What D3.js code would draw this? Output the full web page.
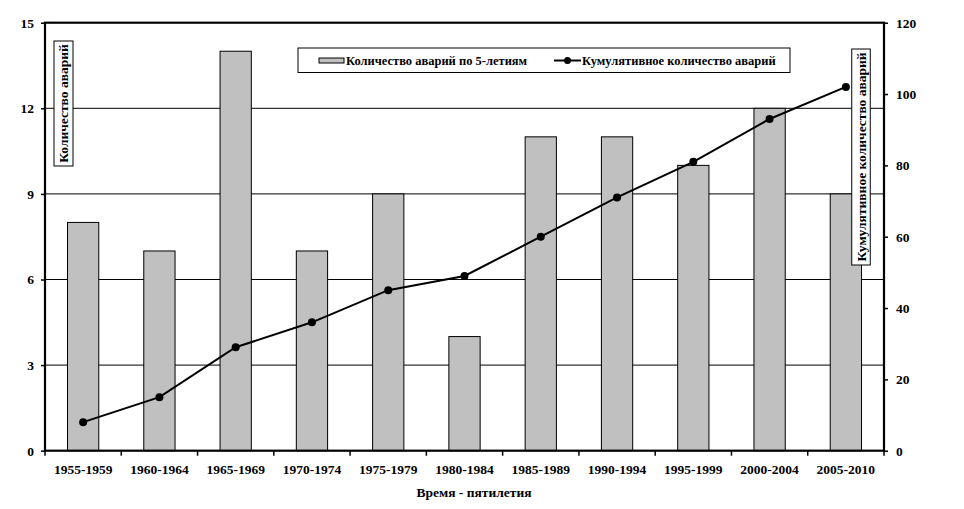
<!DOCTYPE html>
<html><head><meta charset="utf-8">
<script src="https://cdn.jsdelivr.net/npm/d3@7"></script>
<style>body{margin:0;background:#fff;} svg{display:block;}</style>
</head><body><svg id="c" width="964" height="509"></svg>
<script>
const categories = ["1955-1959","1960-1964","1965-1969","1970-1974","1975-1979","1980-1984","1985-1989","1990-1994","1995-1999","2000-2004","2005-2010"];
const counts = [8,7,14,7,9,4,11,11,10,12,9];
const cumulative = [8,15,29,36,45,49,60,71,81,93,102];
const leftTicks = [0,3,6,9,12,15];
const rightTicks = [0,20,40,60,80,100,120];
const seriesNames = ["Количество аварий по 5-летиям","Кумулятивное количество аварий"];
const leftTitle = "Количество аварий";
const rightTitle = "Кумулятивное количество аварий";
const xTitle = "Время - пятилетия";

const FONT = "Liberation Serif";
const svg = d3.select("#c");
const L = 45, R = 884, T = 22.7, B = 450.7;
const x = d3.scaleBand().domain(categories).range([L, R]).paddingInner(0.59).paddingOuter(0.295);
const xc = d3.scaleBand().domain(categories).range([L, R]);
const yL = d3.scaleLinear().domain([0,15]).range([B, T]);
const yR = d3.scaleLinear().domain([0,120]).range([B, T]);

// gridlines
svg.append("g").selectAll("line").data(leftTicks.filter(d=>d>0&&d<15)).join("line")
  .attr("x1", L).attr("x2", R).attr("y1", d=>yL(d)).attr("y2", d=>yL(d))
  .attr("stroke", "#000").attr("stroke-width", 1);

// bars
svg.append("g").selectAll("rect").data(counts).join("rect")
  .attr("x", (d,i)=>x(categories[i])).attr("width", x.bandwidth())
  .attr("y", d=>yL(d)).attr("height", d=>B - yL(d))
  .attr("fill", "#c0c0c0").attr("stroke", "#000").attr("stroke-width", 1);

// plot frame
svg.append("rect").attr("x", L).attr("y", T).attr("width", R-L).attr("height", B-T)
  .attr("fill","none").attr("stroke","#000").attr("stroke-width",2.2);

// line
const line = d3.line().x((d,i)=>xc(categories[i]) + xc.bandwidth()/2).y(d=>yR(d));
svg.append("path").datum(cumulative).attr("d", line).attr("fill","none").attr("stroke","#000").attr("stroke-width",2);
svg.append("g").selectAll("circle").data(cumulative).join("circle")
  .attr("cx",(d,i)=>xc(categories[i]) + xc.bandwidth()/2).attr("cy", d=>yR(d)).attr("r",4).attr("fill","#000");

// axes
const axL = svg.append("g").attr("transform",`translate(${L},0)`)
  .call(d3.axisLeft(yL).tickValues(leftTicks).tickSize(4).tickPadding(7));
const axR = svg.append("g").attr("transform",`translate(${R},0)`)
  .call(d3.axisRight(yR).tickValues(rightTicks).tickSize(4).tickPadding(8));
const axB = svg.append("g").attr("transform",`translate(0,${B})`)
  .call(d3.axisBottom(xc).tickSize(0).tickPadding(14));
svg.append("g").selectAll("line").data(d3.range(categories.length+1)).join("line")
  .attr("x1", i=>L + i*xc.step()).attr("x2", i=>L + i*xc.step())
  .attr("y1", B).attr("y2", B+5).attr("stroke","#000").attr("stroke-width",1.5);
[axL, axR, axB].forEach(a=>{
  a.attr("font-family", FONT);
  a.select(".domain").remove();
  a.selectAll("line").attr("stroke","#000").attr("stroke-width",1.5);
  a.selectAll("text").attr("font-family",FONT).attr("font-weight","bold").attr("font-size",13.5).attr("fill","#000");
});

function vbox(cx, y0, y1, w, label){
  svg.append("rect").attr("x", cx - w/2).attr("y", y0).attr("width", w).attr("height", y1-y0)
    .attr("fill","#fff").attr("stroke","#000").attr("stroke-width",1);
  svg.append("text").attr("transform",`translate(${cx+4.5},${(y0+y1)/2}) rotate(-90)`)
    .attr("text-anchor","middle").attr("font-family",FONT).attr("font-weight","bold").attr("font-size",13.5).text(label);
}
vbox(63.5, 41, 166, 19, leftTitle);
vbox(861, 49, 265, 18.5, rightTitle);

svg.append("text").attr("x", 474).attr("y", 497).attr("text-anchor","middle").attr("font-family",FONT).attr("font-weight","bold").attr("font-size",13.5).text(xTitle);

const lg = svg.append("g");
lg.append("rect").attr("x",298).attr("y",48).attr("width",492).attr("height",24.5).attr("fill","#fff").attr("stroke","#000").attr("stroke-width",1);
lg.append("rect").attr("x",319).attr("y",58).attr("width",25).attr("height",5).attr("fill","#c0c0c0").attr("stroke","#000").attr("stroke-width",1);
lg.append("text").attr("x",346).attr("y",65).attr("font-family",FONT).attr("font-weight","bold").attr("font-size",12.5).text(seriesNames[0]);
lg.append("line").attr("x1",554).attr("x2",581).attr("y1",60.5).attr("y2",60.5).attr("stroke","#000").attr("stroke-width",2);
lg.append("circle").attr("cx",567.5).attr("cy",60.5).attr("r",3.5).attr("fill","#000");
lg.append("text").attr("x",582).attr("y",65).attr("font-family",FONT).attr("font-weight","bold").attr("font-size",12.5).text(seriesNames[1]);
</script></body></html>
